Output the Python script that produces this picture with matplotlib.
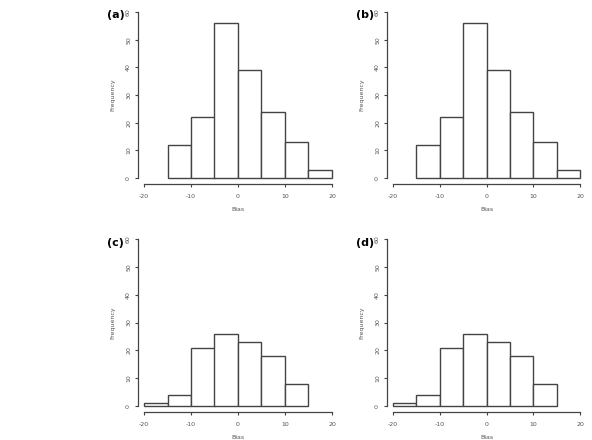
import matplotlib
matplotlib.use("Agg")
import matplotlib.pyplot as plt
import numpy as np

plt.rcParams["axes.unicode_minus"] = False

W, H = 592, 440

# histogram bins and counts
edges_top = [-15, -10, -5, 0, 5, 10, 15, 20]
counts_top = [12, 22, 56, 39, 24, 13, 3]
edges_bottom = [-20, -15, -10, -5, 0, 5, 10, 15]
counts_bottom = [1, 4, 21, 26, 23, 18, 8]

xticks = [-20, -10, 0, 10, 20]
yticks = [0, 10, 20, 30, 40, 50, 60]

panels = [
    ("(a)", edges_top, counts_top, 144, 178, 188, 166),
    ("(b)", edges_top, counts_top, 393, 178, 187, 166),
    ("(c)", edges_bottom, counts_bottom, 144, 406, 188, 167),
    ("(d)", edges_bottom, counts_bottom, 393, 406, 187, 167),
]

line_col = "#444444"
text_col = "#555555"

fig = plt.figure(figsize=(W / 100, H / 100), dpi=100)

for label, edges, counts, x0, y0, w, h in panels:
    ax = fig.add_axes([x0 / W, (H - y0) / H, w / W, h / H])
    bars = ax.bar(edges[:-1], counts, width=np.diff(edges), align="edge",
                  facecolor="white", edgecolor=line_col, linewidth=1.0)
    for b in bars:
        b.set_clip_on(False)
    ax.set_xlim(-20, 20)
    ax.set_ylim(0, 60)
    for s in ["top", "right"]:
        ax.spines[s].set_visible(False)
    ax.spines["left"].set_position(("outward", 4.3))
    ax.spines["bottom"].set_position(("outward", 4.3))
    ax.spines["left"].set_bounds(0, 60)
    ax.spines["bottom"].set_bounds(-20, 20)
    for s in ["left", "bottom"]:
        ax.spines[s].set_color(line_col)
        ax.spines[s].set_linewidth(0.9)
    ax.set_xticks(xticks)
    ax.set_yticks(yticks)
    ax.set_yticklabels([str(v) for v in yticks], rotation=90, va="center")
    ax.tick_params(axis="both", labelsize=4.5, colors=line_col, labelcolor=text_col,
                   length=2.5, width=0.8)
    ax.tick_params(axis="x", pad=4.5)
    ax.tick_params(axis="y", pad=2.5)
    ax.patch.set_alpha(0)

    # panel letter, axis titles
    fig.text((x0 - 37) / W, 1 - (y0 - 163) / H, label, fontsize=8, fontweight="bold",
             ha="left", va="center")
    fig.text((x0 - 31) / W, 1 - (y0 - h / 2) / H, "Frequency", rotation=90,
             fontsize=4.5, color=text_col, ha="center", va="center")
    fig.text((x0 + w / 2) / W, 1 - (y0 + 31) / H, "Bias", fontsize=4.5,
             color=text_col, ha="center", va="center")

fig.savefig("out.png", dpi=100)
